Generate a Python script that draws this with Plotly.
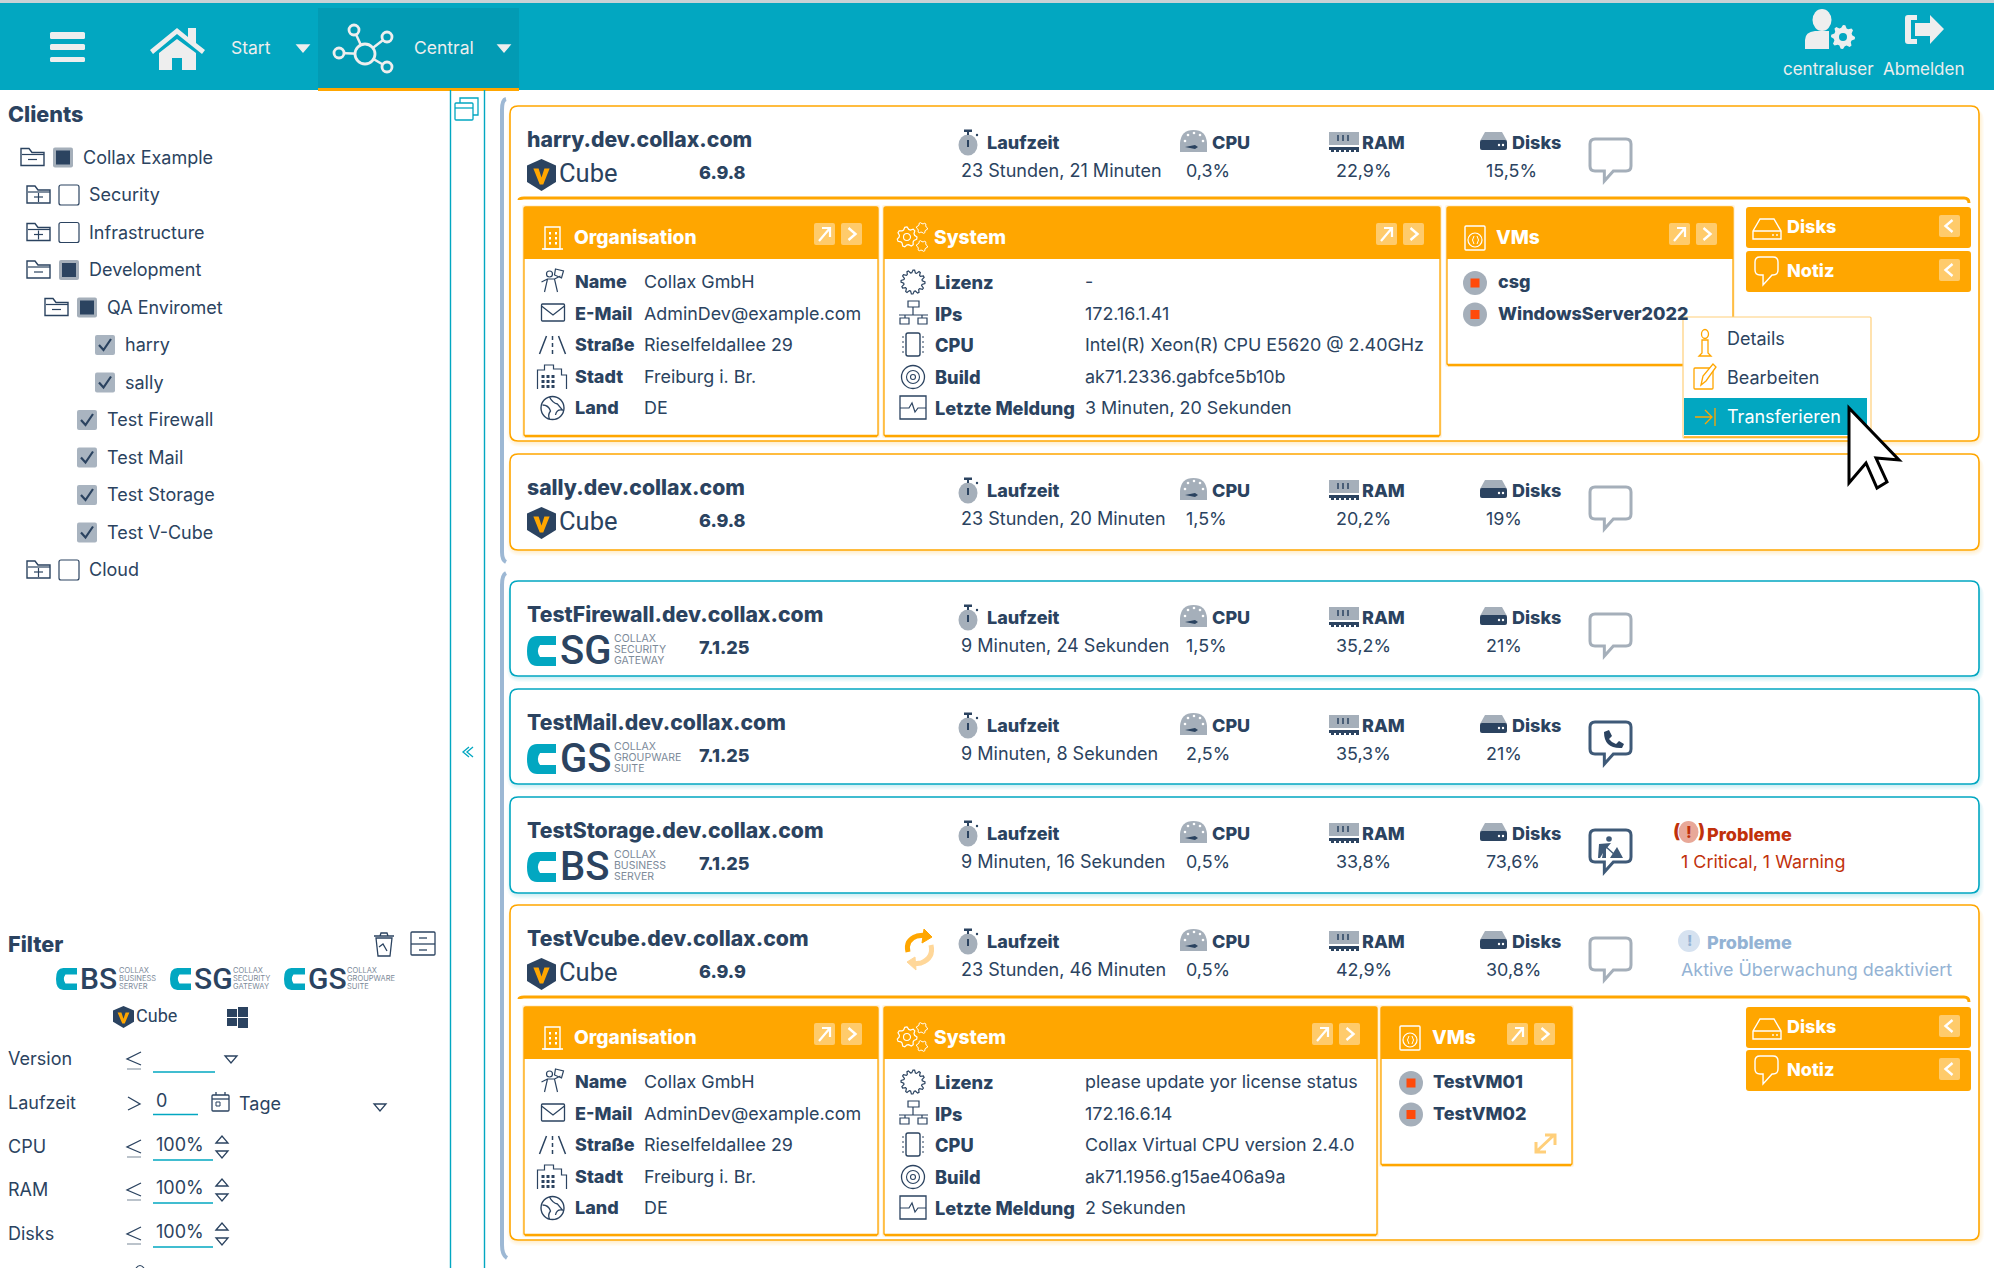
import math
import plotly.graph_objects as go

# Inhalte
TREE_LABELS = ["Collax Example", "Security", "Infrastructure", "Development", "QA Enviromet", "harry", "sally",
               "Test Firewall", "Test Mail", "Test Storage", "Test V-Cube", "Cloud"]
TREE_STATE = ["part", "off", "off", "part", "part", "on", "on", "on", "on", "on", "on", "off"]
TREE_FOLDER = ["-", "+", "+", "-", "-", "", "", "", "", "", "", "+"]

CARD_NAMES = ["harry.dev.collax.com", "sally.dev.collax.com", "TestFirewall.dev.collax.com",
              "TestMail.dev.collax.com", "TestStorage.dev.collax.com", "TestVcube.dev.collax.com"]
CARD_PRODUCT = ["Cube", "Cube", "SG", "GS", "BS", "Cube"]
CARD_VERSION = ["6.9.8", "6.9.8", "7.1.25", "7.1.25", "7.1.25", "6.9.9"]
CARD_UPTIME = ["23 Stunden, 21 Minuten", "23 Stunden, 20 Minuten", "9 Minuten, 24 Sekunden",
               "9 Minuten, 8 Sekunden", "9 Minuten, 16 Sekunden", "23 Stunden, 46 Minuten"]
CARD_CPU = ["0,3%", "1,5%", "1,5%", "2,5%", "0,5%", "0,5%"]
CARD_RAM = ["22,9%", "20,2%", "35,2%", "35,3%", "33,8%", "42,9%"]
CARD_DISKS = ["15,5%", "19%", "21%", "21%", "73,6%", "30,8%"]
CARD_NOTE = ["", "", "", "phone", "worker", ""]

ORG_LABELS = ["Name", "E-Mail", "Straße", "Stadt", "Land"]
ORG_VALUES = ["Collax GmbH", "AdminDev@example.com", "Rieselfeldallee 29", "Freiburg i. Br.", "DE"]
SYS_LABELS = ["Lizenz", "IPs", "CPU", "Build", "Letzte Meldung"]
SYS_VALUES_HARRY = ["-", "172.16.1.41", "Intel(R) Xeon(R) CPU E5620 @ 2.40GHz", "ak71.2336.gabfce5b10b",
                    "3 Minuten, 20 Sekunden"]
SYS_VALUES_VCUBE = ["please update yor license status", "172.16.6.14", "Collax Virtual CPU version 2.4.0",
                    "ak71.1956.g15ae406a9a", "2 Sekunden"]
VMS_HARRY = ["csg", "WindowsServer2022"]
VMS_VCUBE = ["TestVM01", "TestVM02"]
MENU_ITEMS = ["Details", "Bearbeiten", "Transferieren"]
FILTER_LABELS = ["Version", "Laufzeit", "CPU", "RAM", "Disks"]
FILTER_VALUES = ["", "0", "100%", "100%", "100%"]

TEAL = "#02a7c1"
TEAL_DARK = "#029bb4"
ORANGE = "#ffa600"
NAVY = "#2b4360"
GREY = "#a5afba"
LIGHT = "#eeeeee"
RED = "#c1310b"
PALE = "#94b3d4"

shapes = []
notes = []


def path(d, fill=None, color=None, w=1.5):
    shapes.append(dict(type="path", path=d, fillcolor=fill or "rgba(0,0,0,0)",
                       line=dict(color=color or "rgba(0,0,0,0)", width=w if color else 0)))


def rr(x0, y0, x1, y1, r=0):
    return (f"M{x0+r},{y0} L{x1-r},{y0} Q{x1},{y0} {x1},{y0+r} L{x1},{y1-r} Q{x1},{y1} {x1-r},{y1} "
            f"L{x0+r},{y1} Q{x0},{y1} {x0},{y1-r} L{x0},{y0+r} Q{x0},{y0} {x0+r},{y0} Z")


def box(x0, y0, x1, y1, fill=None, color=None, w=1.5, r=0):
    path(rr(x0, y0, x1, y1, r), fill, color, w)


def line(x0, y0, x1, y1, color=NAVY, w=1.5):
    path(f"M{x0},{y0} L{x1},{y1}", None, color, w)


def circle(cx, cy, rx, ry=None, fill=None, color=None, w=1.5):
    ry = ry or rx
    shapes.append(dict(type="circle", x0=cx-rx, x1=cx+rx, y0=cy-ry, y1=cy+ry, fillcolor=fill or "rgba(0,0,0,0)",
                       line=dict(color=color or "rgba(0,0,0,0)", width=w if color else 0)))


def txt(x, y, s, size=18, color=NAVY, bold=False, anchor="left", family="Inter", weight=None):
    notes.append(dict(x=x, y=y - 0.2, text=s, showarrow=False, xanchor=anchor, yanchor="middle", xref="x", yref="y",
                      font=dict(family=family, size=size, color=color, weight=weight or (800 if bold else 400)),
                      borderpad=0, borderwidth=0))


def gear(cx, cy, r, teeth=8, fill=None, color=None, w=1.5):
    pts = []
    for i in range(teeth * 4):
        a = 2 * math.pi * i / (teeth * 4)
        rad = r if i % 4 in (0, 1) else r * 0.78
        pts.append(f"{cx + rad * math.cos(a):.1f},{cy + rad * math.sin(a):.1f}")
    path("M" + " L".join(pts) + " Z", fill, color, w)


def caret(x0, y0, x1, y1, fill=None, color=NAVY, up=False):
    xm = (x0 + x1) / 2
    if up:
        path(f"M{x0},{y1} L{xm},{y0} L{x1},{y1} Z", fill, color, 1.3)
    else:
        path(f"M{x0},{y0} L{x1},{y0} L{xm},{y1} Z", fill, color, 1.3)


def shield(x, y, w, h):
    path(f"M{x},{y+h*.2} L{x+w/2},{y} L{x+w},{y+h*.2} L{x+w},{y+h*.72} L{x+w/2},{y+h} L{x},{y+h*.72} Z", NAVY)
    path(f"M{x+w*.22},{y+h*.3} L{x+w*.4},{y+h*.3} L{x+w/2},{y+h*.58} L{x+w*.6},{y+h*.3} L{x+w*.78},{y+h*.3} "
         f"L{x+w*.56},{y+h*.8} L{x+w*.44},{y+h*.8} Z", ORANGE)


def c_mark(x0, y0, x1, y1):
    w, h = x1 - x0, y1 - y0
    path(f"M{x1},{y0} L{x0+w*.35},{y0} Q{x0},{y0} {x0},{y0+h/2} Q{x0},{y1} {x0+w*.35},{y1} L{x1},{y1} "
         f"L{x1},{y0+h*.7} L{x0+w*.45},{y0+h*.7} Q{x0+w*.3},{y0+h/2} {x0+w*.45},{y0+h*.3} L{x1},{y0+h*.3} Z", TEAL)


def chat(x0, y0, x1, y1, color, w=3):
    xt = x0 + (x1 - x0) * .35
    yb = y1 - 10
    path(f"M{x0+5},{y0} L{x1-5},{y0} Q{x1},{y0} {x1},{y0+5} L{x1},{yb-5} Q{x1},{yb} {x1-5},{yb} L{xt+9},{yb} "
         f"L{xt},{y1} L{xt},{yb} L{x0+5},{yb} Q{x0},{yb} {x0},{yb-5} L{x0},{y0+5} Q{x0},{y0} {x0+5},{y0} Z",
         None, color, w)


def folder(x, y, sign):
    path(f"M{x},{y-9} L{x+8},{y-9} L{x+11},{y-5} L{x+23},{y-5} L{x+23},{y+8} L{x},{y+8} Z", None, NAVY, 1.4)
    line(x + 1, y - 3, x + 23, y - 3, NAVY, 1.2)
    line(x + 7, y + 2, x + 16, y + 2, NAVY, 1.2)
    if sign == "+":
        line(x + 11.5, y - 2, x + 11.5, y + 7, NAVY, 1.2)


def check(x, y, state):
    if state == "off":
        box(x, y - 10, x + 20, y + 10, "white", NAVY, 1.2, 2)
    elif state == "part":
        box(x, y - 10, x + 20, y + 10, GREY, None, 0, 2)
        box(x + 3, y - 7, x + 17, y + 7, NAVY)
    else:
        box(x, y - 10, x + 20, y + 10, "#a9b4c0", None, 0, 2)
        path(f"M{x+4},{y} L{x+8.5},{y+5} L{x+16},{y-6}", None, NAVY, 2.2)


def logo_small(x, y, letters, lines):
    c_mark(x, y - 11, x + 21, y + 11)
    txt(x + 24, y, letters, 30, NAVY, family="Roboto", weight=500)
    for i, s in enumerate(lines):
        txt(x + 63, y - 8 + 8 * i, s, 7.5, "#7c8a99")


LOGO_LINES = {"SG": ["COLLAX", "SECURITY", "GATEWAY"], "GS": ["COLLAX", "GROUPWARE", "SUITE"],
              "BS": ["COLLAX", "BUSINESS", "SERVER"]}

# Kopfzeile
box(0, 0, 1994, 3, "#c9d2d6")
box(0, 3, 1994, 90, TEAL)
box(318, 8, 519, 90, TEAL_DARK)
box(318, 88, 519, 91, ORANGE)
for y0, y1 in [(32, 39), (44, 50), (57, 62)]:
    box(50, y0, 85, y1, LIGHT, None, 0, 1.5)
path("M150,50 L177,28 L188,37 L188,28 L196,28 L196,43 L205,50 L202,54 L177,34 L153,54 Z", LIGHT)
path("M159,53 L177,39 L196,53 L196,70 L182,70 L182,58 L172,58 L172,70 L159,70 Z", LIGHT)
txt(231, 48, "Start", 17.5, LIGHT)
caret(297, 45, 309, 52, LIGHT, LIGHT)
for a, b, c, d in [(365, 54, 354, 30), (365, 54, 387, 37), (365, 54, 339, 53), (365, 54, 387, 67)]:
    line(a, b, c, d, LIGHT, 2.5)
circle(365, 54, 10, None, TEAL_DARK, LIGHT, 2.8)
for cx, cy in [(354, 30), (387, 37), (339, 53), (387, 67)]:
    circle(cx, cy, 5, None, TEAL_DARK, LIGHT, 2.8)
txt(414, 47.5, "Central", 17.5, LIGHT)
caret(498, 45, 510, 52, LIGHT, LIGHT)
circle(1822, 20, 9.5, 11, LIGHT)
path("M1805,49 L1805,40 Q1805,32 1815,31 L1829,31 L1829,49 Z", LIGHT)
gear(1843, 37, 12, 8, LIGHT)
circle(1843, 37, 4, None, TEAL)
path("M1917,15 L1908,15 Q1905,15 1905,18 L1905,41 Q1905,44 1908,44 L1917,44 L1917,39 L1911,39 L1911,20 L1917,20 Z", LIGHT)
path("M1930,15 L1944,29 L1930,44 L1930,36 L1915,36 L1915,23 L1930,23 Z", LIGHT)
txt(1828, 69, "centraluser", 17, LIGHT, anchor="center")
txt(1923, 69, "Abmelden", 17, LIGHT, anchor="center")

# Seitenleiste
line(450.5, 90, 450.5, 1268, TEAL, 1.4)
line(484.5, 90, 484.5, 1268, TEAL, 1.4)
box(455, 103, 473, 120, None, TEAL, 1.3, 1)
line(455, 108, 473, 108, TEAL, 1.3)
path("M460,103 L460,98 L478,98 L478,115 L473,115", None, TEAL, 1.3)
path("M469,747 L463,752 L469,757 M473,747 L467,752 L473,757", None, TEAL, 1.3)
path("M506,99 Q502,100 502,110 L502,552 Q502,560 506,562", None, "#9db8d4", 4)
path("M506,573 Q502,575 502,585 L502,1245 Q502,1255 507,1258", None, "#9db8d4", 4)

txt(8, 114, "Clients", 21.6, NAVY, True)
ROW_X = [21, 27, 27, 27, 45, 0, 0, 0, 0, 0, 0, 27]
CHECK_X = [53, 59, 59, 59, 77, 95, 95, 77, 77, 77, 77, 59]
for i, label in enumerate(TREE_LABELS):
    y = 157.5 + 37.5 * i
    if TREE_FOLDER[i]:
        folder(ROW_X[i], y, TREE_FOLDER[i])
    check(CHECK_X[i], y, TREE_STATE[i])
    txt(CHECK_X[i] + 30, y, label, 18, NAVY)

# Filter
txt(8, 944, "Filter", 21.6, NAVY, True)
path("M376,938 L392,938 L390,956 L378,956 Z M374,936 L394,936 M380,936 L381,933 L387,933 L388,936 M387,951 L383,944 L379,947",
     None, NAVY, 1.3)
box(411, 932, 435, 955, None, NAVY, 1.3, 1)
line(411, 944, 435, 944, NAVY, 1.3)
line(419, 938, 427, 938, NAVY, 1.3)
line(419, 950, 427, 950, NAVY, 1.3)
logo_small(56, 979, "BS", LOGO_LINES["BS"])
logo_small(170, 979, "SG", LOGO_LINES["SG"])
logo_small(284, 979, "GS", LOGO_LINES["GS"])
shield(113, 1006, 21, 22)
txt(136, 1016, "Cube", 18, NAVY, family="Roboto")
box(227, 1009, 237, 1017, NAVY)
box(238, 1007, 248, 1017, NAVY)
box(227, 1018, 237, 1026, NAVY)
box(238, 1018, 248, 1028, NAVY)

FILTER_Y = [1059, 1103, 1147, 1190, 1234]
UNDER_X = [215, 198, 213, 213, 213]
for i, label in enumerate(FILTER_LABELS):
    y = FILTER_Y[i]
    txt(8, y, label, 18, NAVY)
    sign_x = 127
    if i == 1:
        path(f"M{sign_x+1},{y-6} L{sign_x+13},{y+1} L{sign_x+1},{y+7}", None, NAVY, 1.3)
    else:
        path(f"M{sign_x+14},{y-7} L{sign_x},{y} L{sign_x+14},{y+6}", None, NAVY, 1.3)
        line(sign_x, y + 10, sign_x + 14, y + 10, GREY, 1.5)
    line(153, y + 13 if i != 1 else y + 11.5, UNDER_X[i], y + 13 if i != 1 else y + 11.5, TEAL, 1.3)
    if FILTER_VALUES[i]:
        txt(156, y - 2, FILTER_VALUES[i], 18, NAVY)
    if i >= 2:
        caret(216, y - 11, 228, y - 4, None, NAVY, up=True)
        caret(216, y + 4, 228, y + 11, None, NAVY)
caret(225, 1056, 237, 1063)
caret(374, 1104, 386, 1111)
box(212, 1095, 229, 1111, None, NAVY, 1.3, 1)
line(212, 1099, 229, 1099, NAVY, 1.3)
line(216, 1092, 216, 1095, NAVY, 1.3)
line(225, 1092, 225, 1095, NAVY, 1.3)
box(216, 1102, 220, 1106, None, NAVY, 1)
txt(239, 1104, "Tage", 18, NAVY)
path("M136,1268 Q140,1263 144,1268", None, NAVY, 1.2)


# Karten
def stopwatch(x, top):
    circle(x, top + 39, 9.5, 10.5, GREY)
    box(x - 1, top + 26, x + 1, top + 29, NAVY)
    box(x - 4, top + 23.5, x + 4, top + 26, NAVY)
    circle(x + 9, top + 29, 1.2, None, NAVY)
    line(x, top + 34, x, top + 41, NAVY, 2)


def gauge(x, top):
    path(f"M{x},{top+46} L{x},{top+37} Q{x+1},{top+24} {x+13.5},{top+24} Q{x+26},{top+24} {x+27},{top+37} L{x+27},{top+46} Z",
         GREY)
    for dx, dy in [(5, 35), (8, 29), (14, 27), (20, 29), (23, 35)]:
        circle(x + dx, top + dy, 1.3, None, "white")
    path(f"M{x+5},{top+41} L{x+15},{top+39} L{x+18},{top+41} L{x+15},{top+43} Z", NAVY)


def ram(x, top):
    box(x, top + 26, x + 30, top + 39, GREY)
    for dx in (9, 14, 19):
        line(x + dx, top + 29, x + dx, top + 35, NAVY, 1.5)
    box(x, top + 41, x + 30, top + 44, NAVY)
    for dx in range(2, 30, 5):
        box(x + dx, top + 44, x + dx + 3, top + 46, NAVY)


def disk(x, top):
    path(f"M{x},{top+35} L{x+5},{top+26} L{x+22},{top+26} L{x+27},{top+35} Z", GREY)
    box(x, top + 34, x + 27, top + 44, NAVY, None, 0, 2)
    circle(x + 19, top + 39, 1.2, None, "white")
    circle(x + 23, top + 39, 1.2, None, "white")


def card(i, top, bottom, color):
    x0, x1 = 510, 1979
    glow = "255,166,0" if color == ORANGE else "2,167,193"
    for k in range(1, 6):
        box(x0 - k + 2, top + 2, x1 + k, bottom + k + 1, f"rgba({glow},0.035)", None, 0, 8 + k)
    box(x0, top, x1, bottom, "white", color, 1.6, 8)
    txt(526.5, top + 33, CARD_NAMES[i], 21.2, NAVY, True)
    product = CARD_PRODUCT[i]
    if product == "Cube":
        shield(527, top + 53, 29, 32)
        txt(559, top + 67, "Cube", 25.5, NAVY, family="Roboto")
    else:
        c_mark(527, top + 55, 556, top + 85)
        txt(560, top + 70, product, 40, NAVY, family="Roboto", weight=500)
        for k, s in enumerate(LOGO_LINES[product]):
            txt(614, top + 58 + 11 * k, s, 10.5, "#7c8a99")
    txt(699, top + 67, CARD_VERSION[i], 18, NAVY, True)
    stopwatch(968, top)
    txt(987, top + 37, "Laufzeit", 18, NAVY, True)
    txt(961, top + 65, CARD_UPTIME[i], 18.05, NAVY)
    gauge(1180, top)
    txt(1212, top + 37, "CPU", 18, NAVY, True)
    txt(1186, top + 65, CARD_CPU[i], 17.9, NAVY)
    ram(1329, top)
    txt(1362, top + 37, "RAM", 18, NAVY, True)
    txt(1336, top + 65, CARD_RAM[i], 17.9, NAVY)
    disk(1480, top)
    txt(1512, top + 37, "Disks", 18, NAVY, True)
    txt(1486, top + 65, CARD_DISKS[i], 17.9, NAVY)
    note = CARD_NOTE[i]
    chat(1590, top + 33, 1631, top + 75, "#3f5a78" if note else GREY)
    if note == "phone":
        path(f"M1604,{top+43} L1609,{top+41} L1612,{top+47} L1609,{top+50} Q1612,{top+54} 1616,{top+55} "
             f"L1619,{top+52} L1624,{top+55} L1622,{top+59} Q1604,{top+60} 1604,{top+43} Z", NAVY)
    if note == "worker":
        circle(1609, top + 42, 2.8, None, "#3f5a78")
        path(f"M1599,{top+47} L1611,{top+46} L1606,{top+52} L1606,{top+61} L1602,{top+61} L1603,{top+56} L1600,{top+61} L1598,{top+61} Z", "#3f5a78")
        line(1604, top + 48, 1615, top + 58, "#3f5a78", 1.4)
        path(f"M1610,{top+61} L1617,{top+50} L1623,{top+61} Z", "#3f5a78")


def small_btn(x0, y0, x1, y1, kind):
    box(x0, y0, x1, y1, "rgba(255,255,255,0.42)", None, 0, 2)
    xm, ym = (x0 + x1) / 2, (y0 + y1) / 2
    if kind == "open":
        path(f"M{x0+5},{y1-4} L{x1-5},{y0+5} M{x0+8},{y0+5} L{x1-5},{y0+5} L{x1-5},{y0+14}", None, "white", 2.2)
    elif kind == "right":
        path(f"M{xm-3},{y0+5} L{xm+4},{ym} L{xm-3},{y1-5}", None, "white", 2.4)
    else:
        path(f"M{xm+3},{y0+5} L{xm-4},{ym} L{xm+3},{y1-5}", None, "white", 2.4)


def panel(x0, x1, top, bottom, title, tx, open_x):
    for k in range(1, 3):
        box(x0 - k, top - k, x1 + k, bottom + k, "rgba(255,166,0,0.12)", None, 0, 2)
    box(x0, top, x1, bottom, "white", ORANGE, 1.3, 2)
    line(x0 + 1, bottom, x1 - 1, bottom, ORANGE, 2.4)
    box(x0, top, x1, top + 52, ORANGE)
    txt(tx, top + 30, title, 19.2, "white", True)
    small_btn(open_x, top + 16, open_x + 21, top + 38, "open")
    small_btn(open_x + 27, top + 16, open_x + 48, top + 38, "right")


def org_panel(top, bottom):
    panel(524, 878, top, bottom, "Organisation", 574, 814)
    x0 = 542
    box(x0 + 3, top + 20, x0 + 18, top + 42, None, "white", 1.4)
    line(x0, top + 42, x0 + 21, top + 42, "white", 1.6)
    for dx in (7, 13):
        for dy in (25, 30, 35):
            box(x0 + dx, top + dy, x0 + dx + 2, top + dy + 2.5, "white")
    ys = [75, 107, 138, 170, 201]
    for k in range(5):
        txt(575, top + ys[k], ORG_LABELS[k], 18, NAVY, True)
        txt(644, top + ys[k], ORG_VALUES[k], 17.9, NAVY)
    cx = 552.5
    y = top + ys[0]
    circle(cx - 3, y - 8, 3, None, None, NAVY, 1.2)
    path(f"M{cx-8},{y+10} L{cx-5},{y-3} L{cx+2},{y-3} L{cx+5},{y+10} M{cx-11},{y} L{cx-5},{y-3} M{cx+2},{y-3} L{cx+8},{y-6} "
         f"M{cx+3},{y-13} L{cx+11},{y-11} L{cx+9},{y-4} L{cx+2},{y-7} Z", None, NAVY, 1.2)
    y = top + ys[1]
    box(cx - 11, y - 10, cx + 12, y + 7, None, NAVY, 1.3, 1)
    path(f"M{cx-11},{y-8} L{cx+0.5},{y+1} L{cx+12},{y-8}", None, NAVY, 1.3)
    y = top + ys[2]
    path(f"M{cx-13},{y+9} L{cx-6},{y-9} M{cx+6},{y-9} L{cx+13},{y+9} M{cx},{y-9} L{cx},{y-5} M{cx},{y-2} L{cx},{y+2} M{cx},{y+5} L{cx},{y+9}",
         None, NAVY, 1.5)
    y = top + ys[3]
    path(f"M{cx-15},{y+12} L{cx-15},{y-7} L{cx-8},{y-7} L{cx-8},{y-12} L{cx+1},{y-12} L{cx+1},{y-8} L{cx+9},{y-8} L{cx+9},{y-2} L{cx+14},{y-2} L{cx+14},{y+12}",
         None, NAVY, 1.2)
    for dx in (-11, -6, -1):
        for dy in (-2, 3, 8):
            box(cx + dx, y + dy, cx + dx + 3, y + dy + 3, NAVY)
    y = top + ys[4]
    circle(cx, y, 11.5, None, None, NAVY, 1.4)
    path(f"M{cx-10},{y-3} Q{cx-4},{y-3} {cx-2},{y+3} Q{cx-5},{y+7} {cx-3},{y+11} M{cx-3},{y-11} Q{cx},{y-5} {cx+5},{y-4} L{cx+10},{y+2} Q{cx+4},{y+1} {cx+3},{y+7}",
         None, NAVY, 1.3)


def sys_panel(x1, top, bottom, values, open_x):
    panel(884, x1, top, bottom, "System", 934, open_x)
    gear(907, top + 30, 10, 7, None, "white", 1.2)
    circle(907, top + 30, 3.5, None, None, "white", 1.1)
    gear(922, top + 21, 5.5, 6, None, "white", 1)
    gear(922, top + 39, 5.5, 6, None, "white", 1)
    ys = [75, 107, 138, 170, 201]
    for k in range(5):
        txt(935, top + ys[k], SYS_LABELS[k], 18.2, NAVY, True)
        txt(1085, top + ys[k], values[k], 17.9, NAVY)
    cx = 913
    gear(cx, top + ys[0], 12, 12, None, NAVY, 1.2)
    y = top + ys[1]
    box(cx - 5, y - 13, cx + 6, y - 7, None, NAVY, 1.2)
    box(cx - 13, y + 4, cx - 4, y + 10, None, NAVY, 1.2)
    box(cx + 5, y + 4, cx + 14, y + 10, None, NAVY, 1.2)
    path(f"M{cx},{y-7} L{cx},{y+1} M{cx-14},{y+1} L{cx+15},{y+1} M{cx-8},{y+1} L{cx-8},{y+4} M{cx+9},{y+1} L{cx+9},{y+4}", None, NAVY, 1.2)
    y = top + ys[2]
    box(cx - 7, y - 12, cx + 7, y + 11, None, NAVY, 1.4, 2)
    for dy in (-8, -3, 2, 7):
        line(cx - 11, y + dy, cx - 9, y + dy, NAVY, 1.2)
        line(cx + 9, y + dy, cx + 11, y + dy, NAVY, 1.2)
    y = top + ys[3]
    circle(cx, y, 11.5, None, None, NAVY, 1.3)
    circle(cx, y, 6.5, None, None, NAVY, 1.1)
    circle(cx, y, 2.5, None, None, NAVY, 1.1)
    y = top + ys[4]
    box(cx - 13, y - 12, cx + 13, y + 11, None, NAVY, 1.3)
    path(f"M{cx-13},{y} L{cx-4},{y} L{cx-1},{y-5} L{cx+2},{y+4} L{cx+5},{y} L{cx+13},{y}", None, NAVY, 1.2)


def vm_panel(x0, x1, top, bottom, vms, ix, tx, open_x, dot_x, text_x):
    panel(x0, x1, top, bottom, "VMs", tx, open_x)
    box(ix, top + 19, ix + 20, top + 43, None, "white", 1.4, 1)
    circle(ix + 10, top + 33, 7, None, None, "white", 1.2)
    path(f"M{ix+9},{top+29} Q{ix+6},{top+33} {ix+9},{top+37} M{ix+12},{top+29} Q{ix+15},{top+33} {ix+12},{top+37}", None, "white", 1)
    for k, name in enumerate(vms):
        y = top + 76 + 31.5 * k
        circle(dot_x, y, 12, None, GREY)
        box(dot_x - 4.5, y - 4.5, dot_x + 4.5, y + 4.5, "#ff4a0a")
        txt(text_x, y - 1, name, 18, NAVY, True)


def side_button(top, label, kind):
    h = 41
    box(1746, top, 1971, top + h, ORANGE, None, 0, 3)
    if kind == "disk":
        path(f"M1753,{top+24} L1760,{top+12} L1774,{top+12} L1781,{top+24} L1781,{top+32} L1753,{top+32} Z M1753,{top+24} L1781,{top+24}",
             None, "white", 1.4)
        circle(1773, top + 28, 0.9, None, "white")
        circle(1777, top + 28, 0.9, None, "white")
    else:
        chat(1755, top + 6, 1778, top + 34, "white", 1.4)
    txt(1787, top + 20, label, 18, "white", True)
    small_btn(1939, top + 8, 1960, top + 30, "left")


CARD_TOPS = [106, 454, 581, 689, 797, 905]
CARD_BOTTOMS = [441, 550, 676, 784, 893, 1240]
CARD_COLORS = [ORANGE, ORANGE, TEAL, TEAL, TEAL, ORANGE]
for i in range(6):
    card(i, CARD_TOPS[i], CARD_BOTTOMS[i], CARD_COLORS[i])

# harry aufgeklappt
path("M519,200 Q519,198 524,198 L1964,198 Q1969,198 1969,203", None, ORANGE, 3)
org_panel(207, 436)
sys_panel(1440, 207, 436, SYS_VALUES_HARRY, 1376)
vm_panel(1447, 1733, 207, 365, VMS_HARRY, 1465, 1496, 1669, 1475, 1498)
side_button(207, "Disks", "disk")
side_button(251, "Notiz", "chat")

# TestVcube aufgeklappt
path("M519,999 Q519,997 524,997 L1964,997 Q1969,997 1969,1002", None, ORANGE, 3)
org_panel(1007, 1235)
sys_panel(1377, 1007, 1235, SYS_VALUES_VCUBE, 1312)
vm_panel(1381, 1572, 1007, 1165, VMS_VCUBE, 1400, 1432, 1507, 1411, 1433)
side_button(1007, "Disks", "disk")
side_button(1050, "Notiz", "chat")
path("M1537,1151 L1554,1135 M1545,1135 L1555,1135 L1555,1145 M1536,1142 L1536,1152 L1546,1152", None, "#ffcf7a", 3)
# Sync-Symbol
path("M908,952 Q905,940 917,936 L925,935", None, ORANGE, 5)
path("M924,929 L932,937 L922,943 Z", ORANGE, ORANGE, 1)
path("M931,945 Q934,958 921,963 L913,964", None, "#ffd799", 5)
path("M915,957 L907,962 L916,970 Z", "#ffd799", "#ffd799", 1)

# Probleme
circle(1688.5, 832, 10, 11, "#e8a898")
txt(1688.5, 832, "!", 16, RED, True, "center")
txt(1676, 832, "(", 19, RED, True, "center")
txt(1701, 832, ")", 19, RED, True, "center")
txt(1707, 835, "Probleme", 18, RED, True)
txt(1681, 862, "1 Critical, 1 Warning", 17.9, RED)
circle(1689, 941, 11, None, "#d6e2f0")
txt(1689, 941, "!", 15, PALE, True, "center")
txt(1707, 943, "Probleme", 18, PALE, True)
txt(1681, 970, "Aktive Überwachung deaktiviert", 17.9, PALE)

# Kontextmenue
box(1683, 317, 1871, 438, "white", "#ffcf7a", 1.2, 1)
line(1684, 437, 1870, 437, ORANGE, 1.5)
box(1684, 398, 1867, 435, TEAL)
for k, item in enumerate(MENU_ITEMS):
    txt(1727, [339, 378, 417][k], item, 18, "white" if k == 2 else NAVY)
circle(1705, 334, 3.5, 4.5, None, ORANGE, 1.3)
path("M1702,340 L1708,340 L1708,353 L1711,356 L1699,356 L1702,353 Z", None, ORANGE, 1.3)
box(1694, 368, 1713, 389, None, ORANGE, 1.3, 1)
path("M1701,385 L1703,376 L1713,364 L1716,367 L1706,381 Z", "white", ORANGE, 1.3)
path("M1695,417 L1712,417 M1705,410 L1712,417 L1705,424 M1715,408 L1715,426", None, ORANGE, 1.3)
path("M1849,408 L1849,483 L1866,463 L1877,488 L1887,482 L1876,458 L1899,460 Z", "white", "black", 3)

fig = go.Figure(go.Scatter(x=[], y=[]))
fig.update_layout(
    width=1994, height=1268, margin=dict(l=0, r=0, t=0, b=0), showlegend=False,
    paper_bgcolor="white", plot_bgcolor="white",
    xaxis=dict(range=[0, 1994], visible=False, fixedrange=True),
    yaxis=dict(range=[1268, 0], visible=False, fixedrange=True),
    shapes=shapes, annotations=notes,
)
fig.write_html("out.html", config=dict(displayModeBar=False),
               post_script="document.body.style.margin='0';document.body.style.overflow='hidden';")
